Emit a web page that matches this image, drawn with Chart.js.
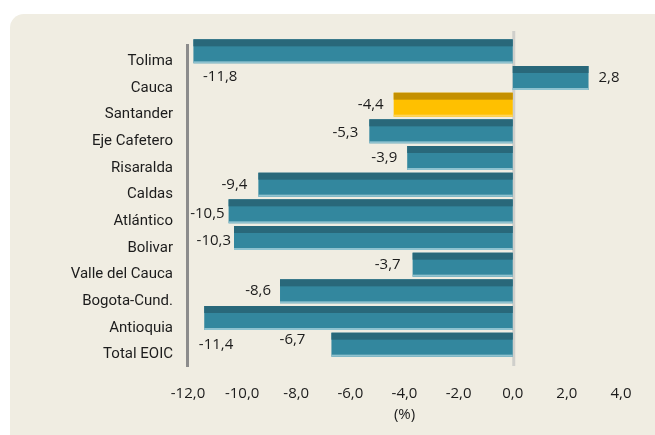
<!DOCTYPE html>
<html>
<head>
<meta charset="utf-8">
<script src="https://cdn.jsdelivr.net/npm/chart.js@4/dist/chart.umd.min.js"></script>
<style>
  html, body { margin: 0; padding: 0; background: #ffffff; }
  canvas { display: block; }
</style>
</head>
<body>
<canvas id="c" width="655" height="435"></canvas>
<script>
// ---- data ----
const categories = ['Tolima', 'Cauca', 'Santander', 'Eje Cafetero', 'Risaralda', 'Caldas',
  'Atlántico', 'Bolivar', 'Valle del Cauca', 'Bogota-Cund.', 'Antioquia', 'Total EOIC'];
const changes = [-11.8, 2.8, -4.4, -5.3, -3.9, -9.4, -10.5, -10.3, -3.7, -8.6, -11.4, -6.7];
const xTickValues = [-12, -10, -8, -6, -4, -2, 0, 2, 4];
const highlighted = 'Santander';
const axisTitle = '(%)';

// ---- style ----
const TEAL = { main: '#33879e', top: '#29687a', bottom: '#8fc2cf' };
const GOLD = { main: '#ffc000', top: '#c49000', bottom: '#ffd45a' };
const TEXT = '#1c1c1c';
const fmt = v => v.toFixed(1).replace('.', ',');
// small visual nudges of value labels (px) to mimic the original placement
const labelNudge = [[54, 25], [0, 0], [0, 0], [-1, 1], [0, 0], [-1, 0], [6, 2], [7, 3], [-2, 0], [1, -1], [39, 27], [-16, -5]];

const palette = categories.map(c => c === highlighted ? GOLD : TEAL);

const decor = {
  id: 'decor',
  beforeDraw(chart) {
    const ctx = chart.ctx;
    ctx.save();
    ctx.fillStyle = '#ffffff';
    ctx.fillRect(0, 0, chart.width, chart.height);
    ctx.fillStyle = '#f0ede2';
    ctx.beginPath();
    ctx.roundRect(10, 14, chart.width + 20, chart.height + 20, 14);
    ctx.fill();
    ctx.restore();
  },
  beforeDatasetsDraw(chart) {
    const ctx = chart.ctx, a = chart.chartArea, xs = chart.scales.x;
    ctx.save();
    // zero line
    const x0 = xs.getPixelForValue(0) + 1;
    ctx.strokeStyle = '#cfcfcb';
    ctx.lineWidth = 3;
    ctx.beginPath();
    ctx.moveTo(x0, a.top - 7);
    ctx.lineTo(x0, a.bottom + 8);
    ctx.stroke();
    // category axis line
    ctx.strokeStyle = '#8c8c8c';
    ctx.lineWidth = 3;
    ctx.beginPath();
    ctx.moveTo(a.left - 0.5, a.top + 6);
    ctx.lineTo(a.left - 0.5, a.bottom + 9);
    ctx.stroke();
    ctx.restore();
  },
  afterDatasetsDraw(chart) {
    const ctx = chart.ctx;
    const meta = chart.getDatasetMeta(0);
    ctx.save();
    meta.data.forEach((el, i) => {
      const p = el.getProps(['x', 'y', 'base', 'height'], true);
      const left = Math.min(p.x, p.base), w = Math.abs(p.x - p.base);
      const top = p.y - p.height / 2;
      const col = palette[i];
      ctx.fillStyle = col.top;
      ctx.fillRect(left, top, w, Math.round(p.height * 0.3));
      ctx.fillStyle = col.bottom;
      ctx.fillRect(left, top + p.height - 2, w, 2);
    });
    ctx.font = '15px "Open Sans"';
    ctx.fillStyle = TEXT;
    ctx.textBaseline = 'middle';
    meta.data.forEach((el, i) => {
      const p = el.getProps(['x', 'y'], true);
      const v = changes[i];
      const [dx, dy] = labelNudge[i];
      if (v < 0) {
        ctx.textAlign = 'right';
        ctx.fillText(fmt(v), p.x - 10 + dx, p.y + dy);
      } else {
        ctx.textAlign = 'left';
        ctx.fillText(fmt(v), p.x + 10 + dx, p.y + dy);
      }
    });
    ctx.restore();
  }
};

new Chart(document.getElementById('c'), {
  type: 'bar',
  data: {
    labels: categories,
    datasets: [{
      data: changes,
      backgroundColor: palette.map(p => p.main),
      borderWidth: 0,
      barPercentage: 0.9,
      categoryPercentage: 1.0
    }]
  },
  options: {
    indexAxis: 'y',
    responsive: false,
    animation: false,
    devicePixelRatio: 1,
    layout: { padding: { top: 38, right: 34, bottom: 11, left: 0 } },
    plugins: { legend: { display: false }, tooltip: { enabled: false } },
    scales: {
      x: {
        min: -12, max: 4,
        afterBuildTicks: s => { s.ticks = xTickValues.map(v => ({ value: v })); },
        grid: { display: false, drawTicks: false },
        border: { display: false },
        ticks: { padding: 27, color: TEXT, font: { family: 'Open Sans', size: 15 }, callback: v => fmt(v), maxRotation: 0, autoSkip: false },
        title: { display: true, text: axisTitle, padding: 0, color: TEXT, font: { family: 'Open Sans', size: 15 } },
        afterFit: s => { s.height = 66; s.paddingLeft = 0; s.paddingRight = 0; }
      },
      y: {
        grid: { display: false, drawTicks: false },
        border: { display: false },
        ticks: { padding: 15, labelOffset: 10, color: TEXT, font: { family: 'Roboto', size: 15 } },
        afterFit: s => { s.width = 188; }
      }
    }
  },
  plugins: [decor]
});
</script>
</body>
</html>
